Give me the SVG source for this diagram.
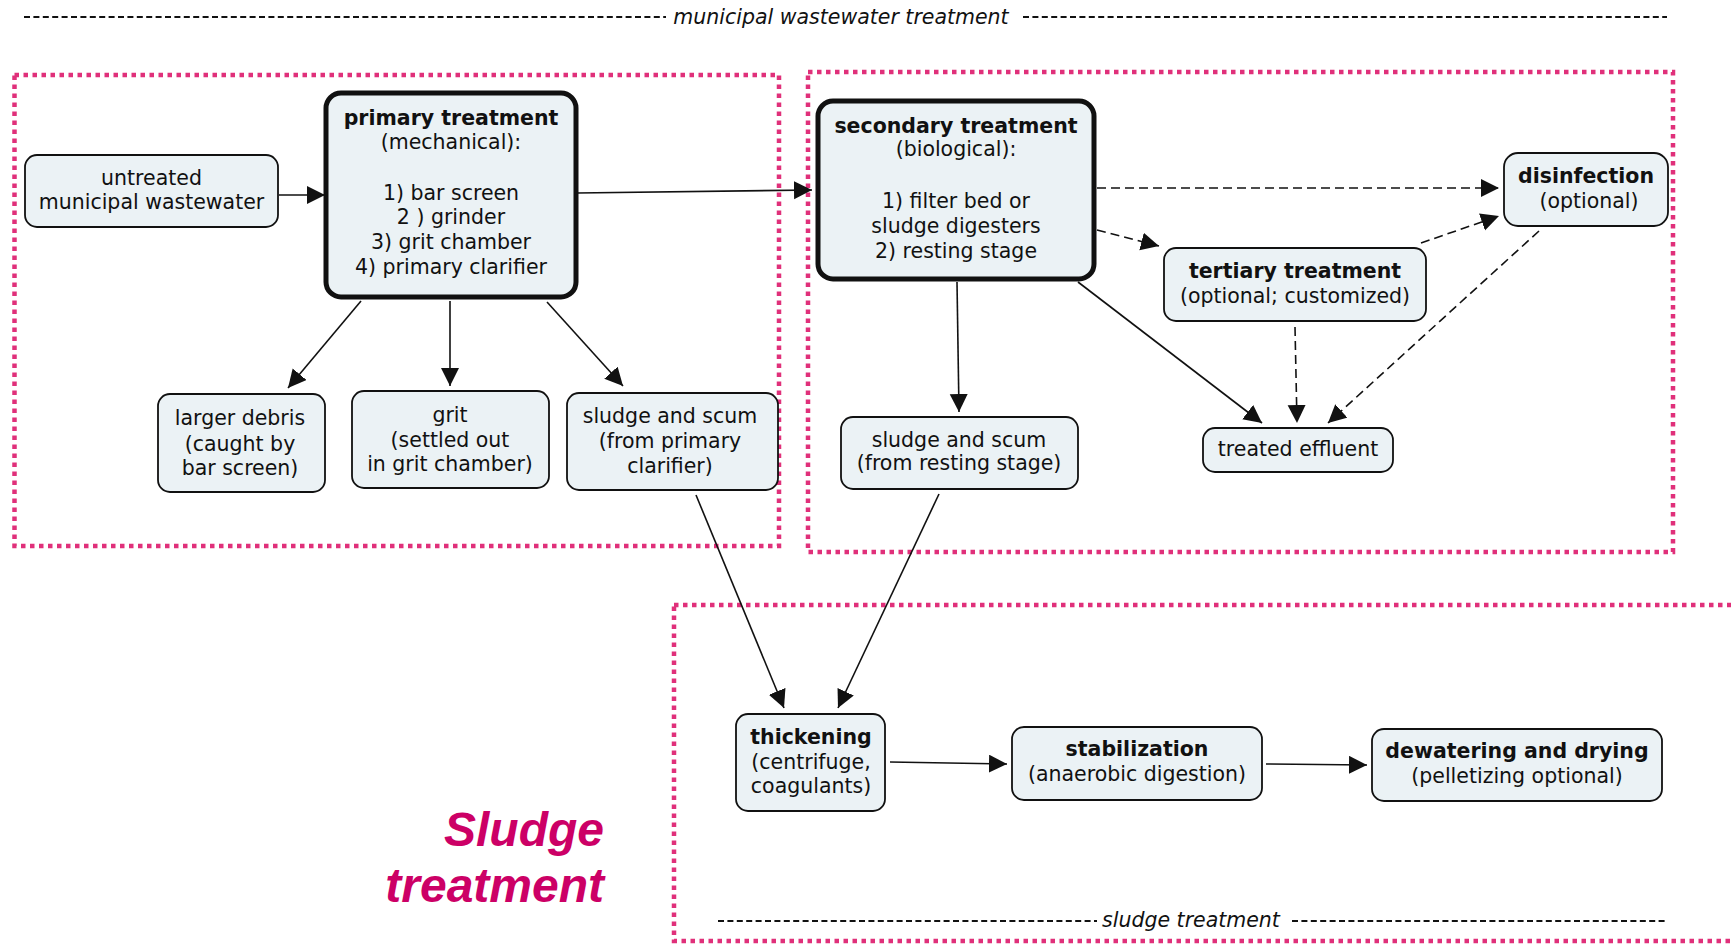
<svg xmlns="http://www.w3.org/2000/svg" width="1731" height="945" viewBox="0 0 1731 945">
<style>
text{font-family:"DejaVu Sans","Verdana",sans-serif;font-size:20.5px;fill:#111;text-anchor:middle}
.b{font-weight:bold}
.it{font-style:italic}
.node{fill:#ebf2f5;stroke:#111;stroke-width:1.8}
.thick{fill:#ebf2f5;stroke:#111;stroke-width:5}
.zone{fill:none;stroke:#e0307a;stroke-width:4.5;stroke-dasharray:4.5 4.5}
.rule{stroke:#111;stroke-width:1.8;stroke-dasharray:6 3.4}
.c{stroke:#111;stroke-width:1.6;fill:none;marker-end:url(#ah)}
.d{stroke-dasharray:9 5}
.big{font-family:"Liberation Sans","Arial",sans-serif;font-size:48px;font-weight:bold;font-style:italic;fill:#cc0066;text-anchor:end}
</style>
<defs>
<marker id="ah" markerUnits="userSpaceOnUse" markerWidth="20" markerHeight="20" refX="18" refY="9" orient="auto"><path d="M0,0 L18,9 L0,18 z" fill="#111"/></marker>
</defs>
<rect width="1731" height="945" fill="#fff"/>
<g id="zones">
<rect class="zone" x="14.5" y="75" width="764.5" height="471"/>
<rect class="zone" x="808" y="72" width="865" height="480"/>
<rect class="zone" x="674" y="605" width="1080" height="336"/>
</g>
<g id="labels">
<line class="rule" x1="24" y1="17" x2="666" y2="17"/>
<text class="it" x="841" y="24">municipal wastewater treatment</text>
<line class="rule" x1="1023" y1="17" x2="1667" y2="17"/>
<line class="rule" x1="718" y1="921" x2="1097" y2="921"/>
<text class="it" x="1191" y="927">sludge treatment</text>
<line class="rule" x1="1292" y1="921" x2="1665" y2="921"/>
<text class="big" x="604" y="846">Sludge</text>
<text class="big" x="604" y="902">treatment</text>
</g>
<g id="connectors">
<line class="c" x1="279" y1="195" x2="325" y2="195"/>
<line class="c" x1="577" y1="193" x2="812" y2="190"/>
<line class="c" x1="361" y1="301" x2="288" y2="388"/>
<line class="c" x1="450" y1="301" x2="450" y2="386"/>
<line class="c" x1="547" y1="302" x2="623" y2="386"/>
<line class="c d" x1="1097" y1="188" x2="1499" y2="188"/>
<line class="c d" x1="1097" y1="230" x2="1159" y2="246"/>
<line class="c d" x1="1421" y1="243" x2="1499" y2="216"/>
<line class="c d" x1="1539" y1="231" x2="1328" y2="423"/>
<line class="c d" x1="1295" y1="327" x2="1297" y2="423"/>
<line class="c" x1="1078" y1="282" x2="1262" y2="423"/>
<line class="c" x1="957" y1="282" x2="959" y2="412"/>
<line class="c" x1="939" y1="494" x2="838" y2="708"/>
<line class="c" x1="696" y1="495" x2="784" y2="708"/>
<line class="c" x1="890" y1="762" x2="1007" y2="764"/>
<line class="c" x1="1266" y1="764" x2="1367" y2="765"/>
</g>
<g id="untreated">
<rect class="node" x="25" y="155" width="253" height="72" rx="12"/>
<text x="151.5" y="185">untreated</text>
<text x="151.5" y="209">municipal wastewater</text>
</g>
<g id="primary">
<rect class="thick" x="326" y="93" width="250" height="204" rx="15"/>
<text class="b" x="451" y="125">primary treatment</text>
<text x="451" y="149">(mechanical):</text>
<text x="451" y="200">1) bar screen</text>
<text x="451" y="224">2 ) grinder</text>
<text x="451" y="249">3) grit chamber</text>
<text x="451" y="274">4) primary clarifier</text>
</g>
<g id="secondary">
<rect class="thick" x="818" y="101" width="276" height="178" rx="15"/>
<text class="b" x="956" y="133">secondary treatment</text>
<text x="956" y="156">(biological):</text>
<text x="956" y="208">1) filter bed or</text>
<text x="956" y="233">sludge digesters</text>
<text x="956" y="258">2) resting stage</text>
</g>
<g id="disinfection">
<rect class="node" x="1504" y="153" width="164" height="73" rx="14"/>
<text class="b" x="1586" y="183">disinfection</text>
<text x="1589" y="208">(optional)</text>
</g>
<g id="tertiary">
<rect class="node" x="1164" y="248" width="262" height="73" rx="12"/>
<text class="b" x="1295" y="278">tertiary treatment</text>
<text x="1295" y="303">(optional; customized)</text>
</g>
<g id="effluent">
<rect class="node" x="1203" y="428" width="190" height="44" rx="12"/>
<text x="1298" y="456">treated effluent</text>
</g>
<g id="sludge-resting">
<rect class="node" x="841" y="417" width="237" height="72" rx="12"/>
<text x="959" y="447">sludge and scum</text>
<text x="959" y="470">(from resting stage)</text>
</g>
<g id="debris">
<rect class="node" x="158" y="394" width="167" height="98" rx="12"/>
<text x="240" y="425">larger debris</text>
<text x="240" y="451">(caught by</text>
<text x="240" y="475">bar screen)</text>
</g>
<g id="grit">
<rect class="node" x="352" y="391" width="197" height="97" rx="12"/>
<text x="450" y="422">grit</text>
<text x="450" y="447">(settled out</text>
<text x="450" y="471">in grit chamber)</text>
</g>
<g id="sludge-primary">
<rect class="node" x="567" y="393" width="211" height="97" rx="12"/>
<text x="670" y="423">sludge and scum</text>
<text x="670" y="448">(from primary</text>
<text x="670" y="473">clarifier)</text>
</g>
<g id="thickening">
<rect class="node" x="736" y="714" width="149" height="97" rx="12"/>
<text class="b" x="811" y="744">thickening</text>
<text x="811" y="769">(centrifuge,</text>
<text x="811" y="793">coagulants)</text>
</g>
<g id="stabilization">
<rect class="node" x="1012" y="727" width="250" height="73" rx="12"/>
<text class="b" x="1137" y="756">stabilization</text>
<text x="1137" y="781">(anaerobic digestion)</text>
</g>
<g id="dewatering">
<rect class="node" x="1372" y="729" width="290" height="72" rx="12"/>
<text class="b" x="1517" y="758">dewatering and drying</text>
<text x="1517" y="783">(pelletizing optional)</text>
</g>
</svg>
